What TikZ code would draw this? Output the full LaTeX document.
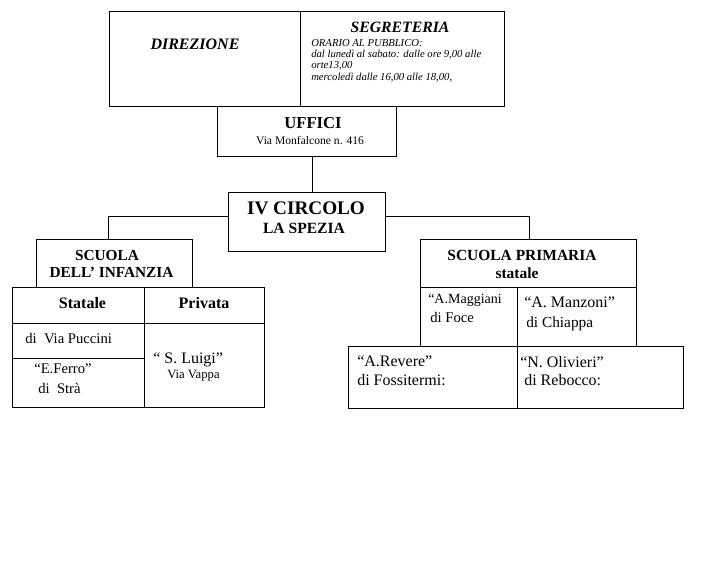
\documentclass[tikz,border=0pt]{standalone}
\usepackage{fontspec}
\setmainfont{Liberation Serif}
\usetikzlibrary{positioning,calc}

\def\px{0.75pt}
\newcommand{\fsz}[1]{\fontsize{#1}{#1}\selectfont}
\tikzset{
  box/.style={draw, line width=0.75pt, inner sep=0pt},
  txt/.style={inner sep=0pt, anchor=base},
  txtl/.style={inner sep=0pt, anchor=base west},
  link/.style={line width=0.75pt},
}

\begin{document}
\begin{tikzpicture}[x=0.75pt,y=-0.75pt]
\useasboundingbox (0,0) rectangle (720,588);
% top boxes
\node[box, minimum width=191*\px, minimum height=95*\px] (direz) at (204.5,59.5) {};
\node[box, minimum width=204*\px, minimum height=95*\px] (segr) at (402,59.5) {};
\node[box, minimum width=179*\px, minimum height=49*\px] (uffici) at (306.5,131.5) {};
\node[box, minimum width=157*\px, minimum height=59*\px] (circolo) at (306.5,221.5) {};
% scuola dell'infanzia
\node[box, minimum width=156*\px, minimum height=48*\px] (infanzia) at (114,263) {};
\node[box, minimum width=132*\px, minimum height=36*\px] (statale) at (78,305.5) {};
\node[box, minimum width=120*\px, minimum height=36*\px] (privata) at (204,305.5) {};
\node[box, minimum width=132*\px, minimum height=35*\px] (puccini) at (78,341) {};
\node[box, minimum width=132*\px, minimum height=49*\px] (ferro) at (78,383) {};
\node[box, minimum width=120*\px, minimum height=84*\px] (luigi) at (204,365.5) {};
% scuola primaria
\node[box, minimum width=216*\px, minimum height=48*\px] (primaria) at (528,263) {};
\node[box, minimum width=97*\px, minimum height=59*\px] (maggiani) at (468.5,316.5) {};
\node[box, minimum width=119*\px, minimum height=59*\px] (manzoni) at (576.5,316.5) {};
\node[box, minimum width=169*\px, minimum height=62*\px] (revere) at (432.5,377) {};
\node[box, minimum width=166*\px, minimum height=62*\px] (olivieri) at (600,377) {};
% connectors
\draw[link] ([xshift=6*\px]uffici.south) -- ([xshift=6*\px]uffici.south |- circolo.north);
\draw[link] ([yshift=5*\px]circolo.west) -| ([xshift=-6*\px]infanzia.north);
\draw[link] ([yshift=5*\px]circolo.east) -| ([xshift=1*\px]primaria.north);
% texts
\node[txt, font=\bfseries\itshape\fsz{12}] (tdirez) at (195,50) {DIREZIONE};
\node[txt, font=\bfseries\itshape\fsz{11.8}] (tsegr) at (400,33) {SEGRETERIA};
\node[txtl, font=\itshape\fsz{8}] (orario1) at (311,47) {ORARIO AL PUBBLICO:};
\node[txtl, font=\itshape\fsz{8}] (orario2) at (311,58) {dal lunedì al sabato: dalle ore 9,00 alle};
\node[txtl, font=\itshape\fsz{8}] (orario3) at (311,69) {orte13,00};
\node[txtl, font=\itshape\fsz{8}] (orario4) at (311,81) {mercoledì dalle 16,00 alle 18,00,};
\node[txt, font=\bfseries\fsz{12.5}] (tuffici) at (313,128) {UFFICI};
\node[txt, font=\fsz{8.7}] (tvia) at (310,145) {Via Monfalcone n. 416};
\node[txt, font=\bfseries\fsz{14.4}] (tcirc) at (306,214) {IV CIRCOLO};
\node[txt, font=\bfseries\fsz{11.7}] (tspezia) at (304,233) {LA SPEZIA};
\node[txt, font=\bfseries\fsz{11.5}] (tscuola) at (107,260) {SCUOLA};
\node[txt, font=\bfseries\fsz{11.5}] (tinf) at (111.5,277) {DELL’ INFANZIA};
\node[txt, font=\bfseries\fsz{12}] (tstat) at (82.5,308) {Statale};
\node[txt, font=\bfseries\fsz{12}] (tpriv) at (204,308) {Privata};
\node[txtl, font=\fsz{11}] (tpucc) at (25,343) {di~~Via Puccini};
\node[txtl, font=\fsz{11}] (tferro) at (34,373) {“E.Ferro”};
\node[txtl, font=\fsz{11}] (tstra) at (38,393) {di~~Strà};
\node[txtl, font=\fsz{12}] (tluigi) at (153,363) {“ S. Luigi”};
\node[txtl, font=\fsz{9.5}] (tvappa) at (167,378) {Via Vappa};
\node[txt, font=\bfseries\fsz{11.6}] (tprim) at (522,260) {SCUOLA PRIMARIA};
\node[txt, font=\bfseries\fsz{11.6}] (tstatale) at (517,278) {statale};
\node[txtl, font=\fsz{10.5}] (tmagg) at (428,303) {“A.Maggiani};
\node[txtl, font=\fsz{11}] (tfoce) at (430,322) {di Foce};
\node[txtl, font=\fsz{12}] (tmanz) at (524,307) {“A. Manzoni”};
\node[txtl, font=\fsz{11.5}] (tchia) at (526,327) {di Chiappa};
\node[txtl, font=\fsz{12}] (trev) at (357,366) {“A.Revere”};
\node[txtl, font=\fsz{12}] (tfoss) at (357,385) {di Fossitermi:};
\node[txtl, font=\fsz{12}] (toliv) at (520,367) {“N. Olivieri”};
\node[txtl, font=\fsz{12}] (trebo) at (524,385) {di Rebocco:};
\end{tikzpicture}
\end{document}
